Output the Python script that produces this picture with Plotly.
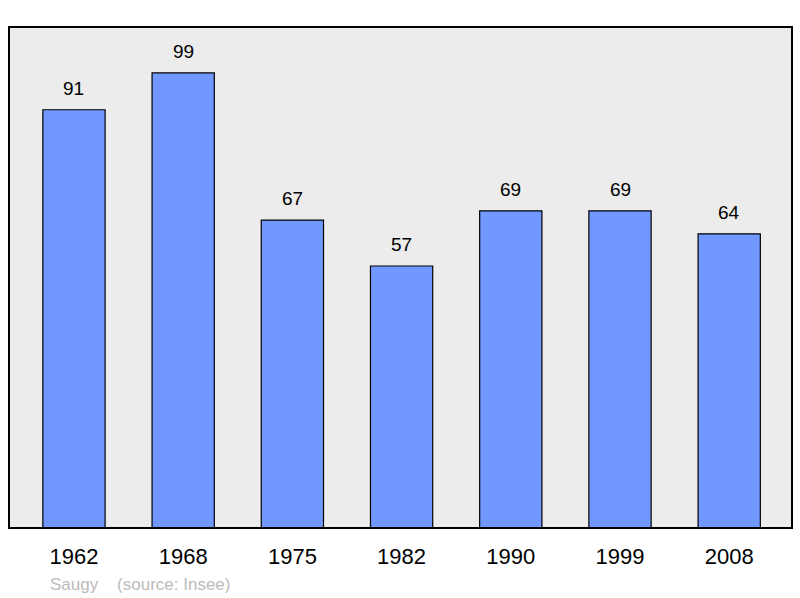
import plotly.graph_objects as go

years = ["1962", "1968", "1975", "1982", "1990", "1999", "2008"]
population = [91, 99, 67, 57, 69, 69, 64]
commune = "Saugy"
source = "(source: Insee)"

xs = list(range(len(years)))

fig = go.Figure()
fig.add_trace(go.Bar(
    x=xs, y=population, width=0.57,
    marker=dict(color="#7198ff", line=dict(color="#000000", width=1.2)),
    hoverinfo="skip",
))

for x, v in zip(xs, population):
    fig.add_annotation(x=x, y=v, text=str(v), showarrow=False, yanchor="bottom",
                       yshift=9, font=dict(family="Liberation Sans, Arial", size=19, color="#000"))

fig.add_annotation(xref="paper", yref="paper", x=(48 - 9) / 783, y=-(584 - 528) / 501,
                   xanchor="left", yanchor="middle", showarrow=False,
                   text=commune + "&nbsp;&nbsp;&nbsp;&nbsp;" + source,
                   font=dict(family="Liberation Sans, Arial", size=17, color="#bbbbbb"))

fig.add_shape(type="rect", xref="paper", yref="paper", x0=0, y0=0, x1=1, y1=1,
              line=dict(color="#000000", width=2), layer="above")

fig.update_layout(
    width=800, height=598,
    margin=dict(l=9, r=8, t=27, b=70),
    paper_bgcolor="#ffffff", plot_bgcolor="#ececec",
    showlegend=False,
    xaxis=dict(range=[-0.595, 6.575], tickvals=xs, ticktext=years, showgrid=False,
               zeroline=False, ticks="outside", ticklen=9, tickcolor="rgba(0,0,0,0)",
               tickfont=dict(family="Liberation Sans, Arial", size=22, color="#000")),
    yaxis=dict(range=[0, 109], showgrid=False, zeroline=False, showticklabels=False),
)

fig.write_html("out.html", config={"displayModeBar": False},
               post_script="document.body.style.margin='0';")
